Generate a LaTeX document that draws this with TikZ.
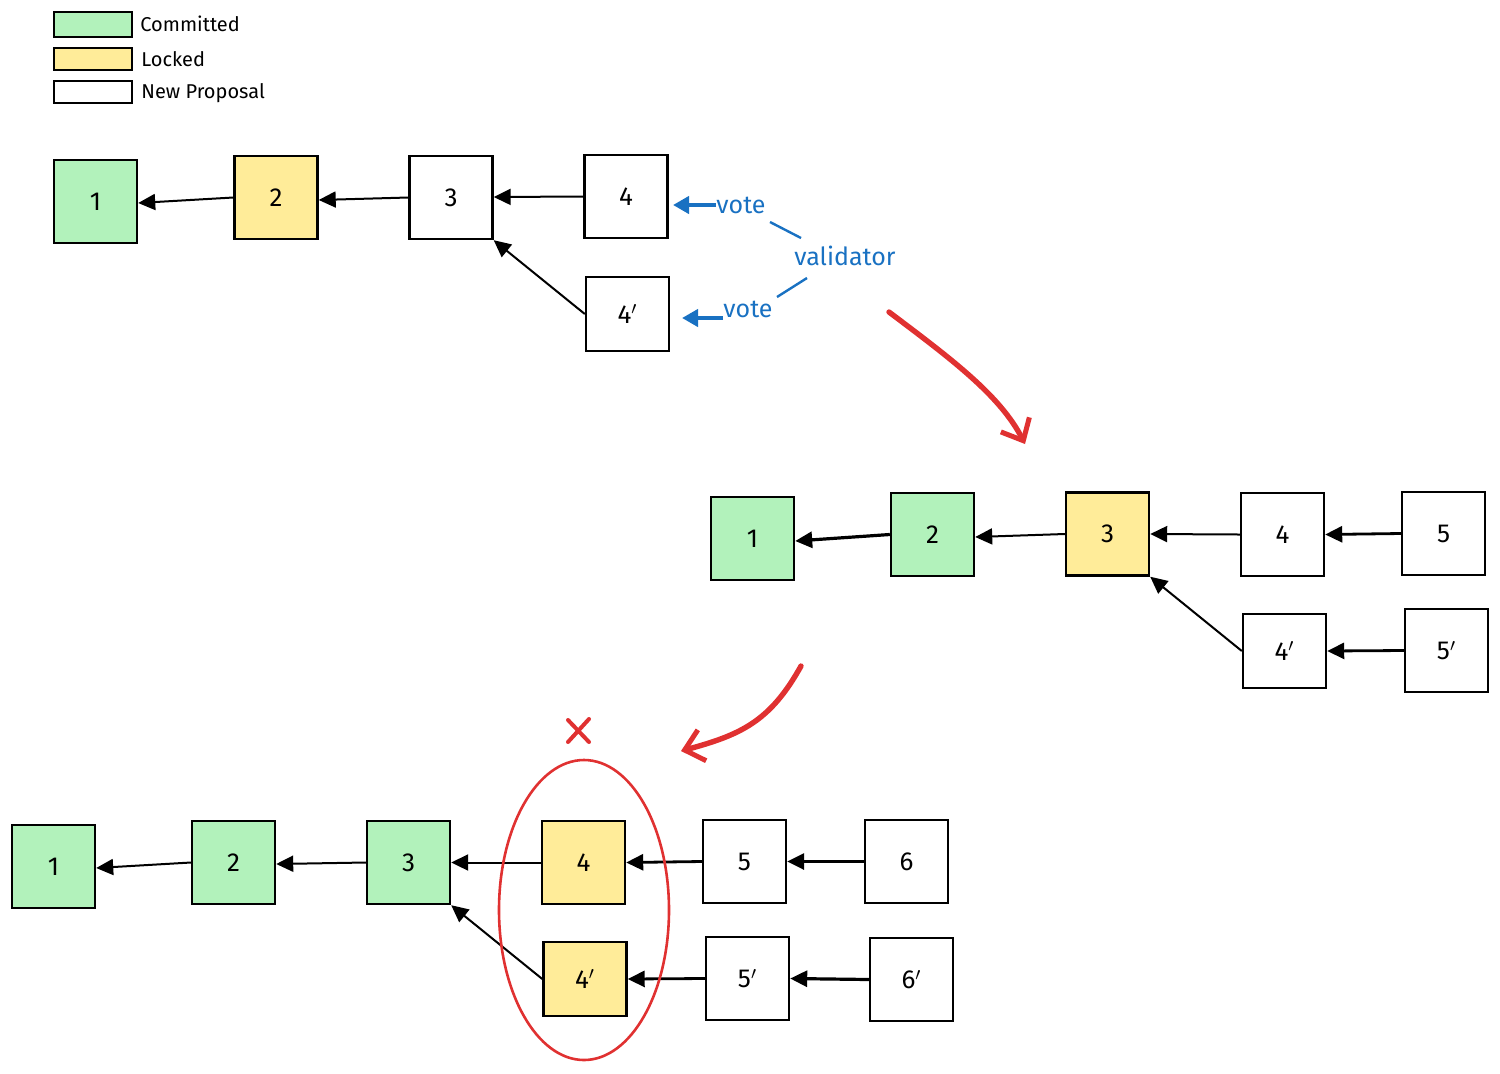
\documentclass[tikz,border=0pt]{standalone}
\usepackage{fontspec}
\setmainfont{Fira Sans}
\usetikzlibrary{arrows.meta}
\definecolor{cgreen}{HTML}{B2F2BB}
\definecolor{cyellow}{HTML}{FFEC99}
\definecolor{cblue}{HTML}{1971C2}
\definecolor{cred}{HTML}{E03131}
\tikzset{
  blk/.style={draw=black, line width=1.2pt, minimum width=41.5pt, minimum height=41.5pt, inner sep=0pt, font=\fontsize{13}{15}\selectfont},
  blkp/.style={blk, minimum height=37pt},
  com/.style={fill=cgreen},
  lck/.style={fill=cyellow},
  nw/.style={fill=white},
  legbox/.style={draw=black, line width=1.1pt, minimum width=39pt, inner sep=0pt},
  legtxt/.style={anchor=west, inner sep=0pt, font=\fontsize{10}{12}\selectfont},
  arr/.style={-{Triangle[length=8.5pt 0,width=8pt 0]}, line width=1pt, black},
  barr/.style={-{Triangle[length=8pt 0,width=8.5pt 0]}, line width=2pt, cblue},
  bline/.style={line width=1.2pt, cblue},
  btxt/.style={text=cblue, inner sep=0pt, font=\fontsize{12.5}{14}\selectfont},
  rarr/.style={-{Straight Barb[length=9pt 0,width=16pt 0,line width=2.5pt]}, line width=2.7pt, cred, line cap=round},
}
\begin{document}
\begin{tikzpicture}[x=0.5pt,y=-0.5pt]
\useasboundingbox (0,0) rectangle (1500,1073);
% legend
\node[legbox, com, minimum height=12.5pt] (lg1) at (93,24.5) {};
\node[legbox, lck, minimum height=11pt] (lg2) at (93,59) {};
\node[legbox, nw, minimum height=11pt] (lg3) at (93,92) {};
\node[legtxt] (lt1) at (140,24) {Committed};
\node[legtxt] (lt2) at (141,59) {Locked};
\node[legtxt] (lt3) at (141,93) {New Proposal};
% top row
\node[blk, com] (t1) at (95.5,201.5) {1};
\node[blk, lck] (t2) at (276,197.5) {2};
\node[blk, nw] (t3) at (451,197.5) {3};
\node[blk, nw] (t4) at (626,196.5) {4};
\node[blkp, nw] (t4p) at (627.5,314) {4$'$};
\draw[arr] (t2.west) -- (t1.east |- 0,203);
\draw[arr] (t3.west) -- (t2.east |- 0,200);
\draw[arr] (t4.west) -- (t3.east |- 0,197);
\draw[arr] (t4p.west) -- (t3.south east);
% votes
\node[btxt] (vote1) at (741,205) {vote};
\node[btxt] (vote2) at (748,309) {vote};
\node[btxt] (val) at (845,256) {validator};
\coordinate (v1t) at (673,205);
\coordinate (v2t) at (682,318);
\draw[barr] (vote1.west) -- (v1t);
\draw[barr] (vote2.west |- v2t) -- (v2t);
\coordinate (l1a) at (770,222);
\coordinate (l1b) at (801,238);
\coordinate (l2a) at (807,278);
\coordinate (l2b) at (777,297);
\draw[bline] (l1a) -- (l1b);
\draw[bline] (l2a) -- (l2b);
% red arrow 1
\coordinate (r1s) at (889,312);
\coordinate (r1e) at (1025,444);
\draw[rarr] (r1s) .. controls (950,358) and (1000,395) .. (r1e);
% middle row
\node[blk, com] (m1) at (752.5,538.5) {1};
\node[blk, com] (m2) at (932.5,534.5) {2};
\node[blk, lck] (m3) at (1107.5,534) {3};
\node[blk, nw] (m4) at (1282.5,534.5) {4};
\node[blk, nw] (m5) at (1443.5,533.5) {5};
\node[blkp, nw] (m4p) at (1284.5,651) {4$'$};
\node[blk, nw] (m5p) at (1446.5,650.5) {5$'$};
\draw[arr, line width=1.6pt] (m2.west) -- (m1.east |- 0,541);
\draw[arr] (m3.west) -- (m2.east |- 0,537);
\draw[arr] (m4.west) -- (m3.east);
\draw[arr, line width=1.4pt] (m5.west) -- (m4.east);
\draw[arr] (m4p.west) -- (m3.south east);
\draw[arr, line width=1.4pt] (m5p.west) -- (m4p.east);
% red arrow 2
\coordinate (r2s) at (801,666);
\coordinate (r2e) at (681,751);
\draw[rarr] (r2s) .. controls (770,722) and (740,735) .. (r2e);
% bottom row
\node[blk, com] (b1) at (53.5,866.5) {1};
\node[blk, com] (b2) at (233.5,862.5) {2};
\node[blk, com] (b3) at (408.5,862.5) {3};
\node[blk, lck] (b4) at (583.5,862.5) {4};
\node[blk, nw] (b5) at (744.5,861.5) {5};
\node[blk, nw] (b6) at (906.5,861.5) {6};
\node[blkp, lck] (b4p) at (585,979) {4$'$};
\node[blk, nw] (b5p) at (747.5,978.5) {5$'$};
\node[blk, nw] (b6p) at (911.5,979.5) {6$'$};
\draw[arr] (b2.west) -- (b1.east |- 0,868);
\draw[arr] (b3.west) -- (b2.east |- 0,864);
\draw[arr] (b4.west) -- (b3.east);
\draw[arr, line width=1.4pt] (b5.west) -- (b4.east);
\draw[arr, line width=1.6pt] (b6.west) -- (b5.east);
\draw[arr] (b4p.west) -- (b3.south east);
\draw[arr, line width=1.4pt] (b5p.west) -- (b4p.east);
\draw[arr, line width=1.6pt] (b6p.west) -- (b5p.east);
% red ellipse and cross
\draw[cred, line width=1.3pt] (584,910) ellipse [x radius=42.5pt, y radius=75pt];
\draw[cred, line width=2pt, line cap=round] (568,720) -- (589,742) (589,719) -- (568,742);
\end{tikzpicture}
\end{document}
